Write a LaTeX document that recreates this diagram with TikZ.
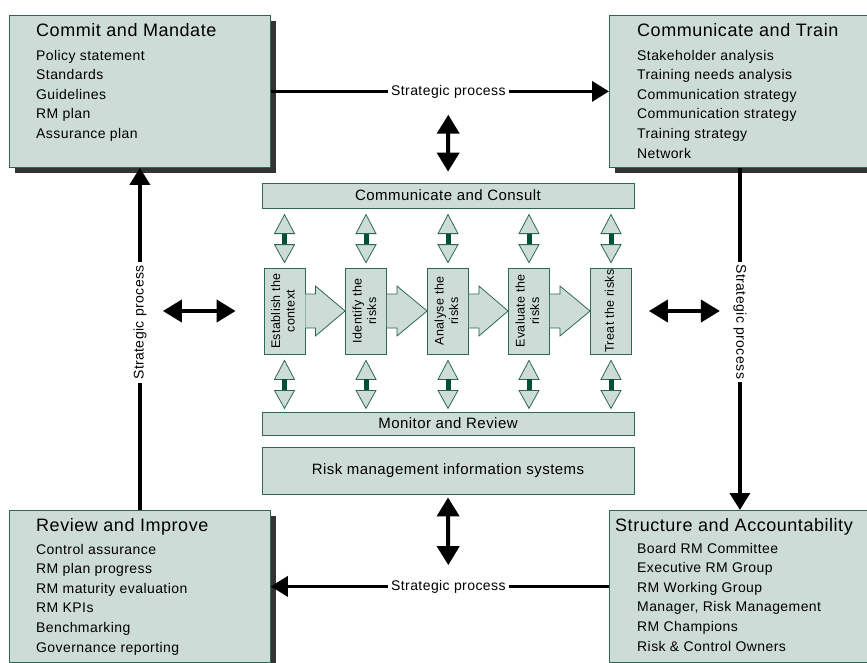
\documentclass[tikz,border=0pt]{standalone}
\usepackage{fontspec}
\setmainfont{Liberation Sans}[LetterSpace=3]
\usetikzlibrary{arrows.meta,calc,shadows}

\definecolor{boxfill}{RGB}{205,220,215}
\definecolor{boxline}{RGB}{45,105,80}
\definecolor{bargreen}{RGB}{0,80,55}

\tikzset{
  bigbox/.style={draw=boxline, fill=boxfill, line width=0.8pt, anchor=north west,
    minimum width=261pt, minimum height=152pt, inner sep=0pt,
    drop shadow={shadow xshift=6pt, shadow yshift=-6pt, fill=black!80, opacity=1}},
  boxtitle/.style={anchor=base west, inner sep=0pt, font=\fontsize{18}{20}\selectfont},
  boxitem/.style={anchor=base west, inner sep=0pt, font=\fontsize{14}{16}\selectfont},
  bar/.style={draw=boxline, fill=boxfill, line width=0.8pt, inner sep=0pt,
    font=\fontsize{15}{17}\selectfont},
  stepbox/.style={draw=boxline, fill=boxfill, line width=0.8pt, inner sep=0pt,
    minimum width=41pt, minimum height=86pt, font=\fontsize{12.5}{14.5}\selectfont},
  hollow/.style={draw=boxline, fill=boxfill, line width=0.8pt, line join=miter},
  strat/.style={line width=3.5pt, -{Triangle[length=17pt,width=20pt]}},
  dbl/.style={line width=4pt, {Triangle[length=19pt,width=22pt]}-{Triangle[length=19pt,width=22pt]}},
  stlabel/.style={fill=white, inner sep=3pt, font=\fontsize{14}{16}\selectfont},
  updown/.pic={
    \draw[hollow] (0,0) -- (10,19) -- (-10,19) -- cycle;
    \fill[bargreen] (-2.5,19) rectangle (2.5,30);
    \draw[hollow] (-10,30) -- (10,30) -- (0,48) -- cycle;
  }
}

\begin{document}
\begin{tikzpicture}[x=1pt,y=-1pt]
\clip (0,0) rectangle (867,662);
\fill[white] (0,0) rectangle (867,662);

% four outer boxes
\node[bigbox] (commit) at (9,15) {};
\node[bigbox] (train) at (609,15) {};
\node[bigbox] (review) at (9,510) {};
\node[bigbox] (struct) at (609,510) {};

\node[boxtitle] (committitle) at ([xshift=27pt,yshift=-21pt]commit.north west) {Commit and Mandate};
\foreach \t [count=\k, evaluate=\k as \yy using 45+19.6*(\k-1)] in
  {Policy statement, Standards, Guidelines, RM plan, Assurance plan}
  \node[boxitem] (commit\k) at ([xshift=27pt,yshift=-\yy pt]commit.north west) {\t};

\node[boxtitle] (traintitle) at ([xshift=28pt,yshift=-21pt]train.north west) {Communicate and Train};
\foreach \t [count=\k, evaluate=\k as \yy using 45+19.6*(\k-1)] in
  {Stakeholder analysis, Training needs analysis, Communication strategy,
   Communication strategy, Training strategy, Network}
  \node[boxitem] (train\k) at ([xshift=28pt,yshift=-\yy pt]train.north west) {\t};

\node[boxtitle] (reviewtitle) at ([xshift=27pt,yshift=-21pt]review.north west) {Review and Improve};
\foreach \t [count=\k, evaluate=\k as \yy using 44+19.6*(\k-1)] in
  {Control assurance, RM plan progress, RM maturity evaluation, RM KPIs,
   Benchmarking, Governance reporting}
  \node[boxitem] (review\k) at ([xshift=27pt,yshift=-\yy pt]review.north west) {\t};

\node[boxtitle] (structtitle) at ([xshift=6pt,yshift=-21pt]struct.north west) {Structure and Accountability};
\foreach \t [count=\k, evaluate=\k as \yy using 43+19.6*(\k-1)] in
  {Board RM Committee, Executive RM Group, RM Working Group,
   {Manager, Risk Management}, RM Champions, Risk \& Control Owners}
  \node[boxitem] (struct\k) at ([xshift=28pt,yshift=-\yy pt]struct.north west) {\t};

% strategic process loop
\draw[strat] (commit.east) -- node[stlabel, pos=0.525] (sptop) {Strategic process} (train.west);
\draw[strat] (train.south) -- node[stlabel, pos=0.45, rotate=-90] (spright) {Strategic process} (struct.north);
\draw[strat] (struct.west) -- node[stlabel, pos=0.475] (spbottom) {Strategic process} (review.east);
\draw[strat] (review.north) -- node[stlabel, pos=0.548, rotate=90] (spleft) {Strategic process} (commit.south);

% central process
\node[bar, minimum width=372pt, minimum height=25pt] (consult) at (448,195.5) {Communicate and Consult};
\node[bar, minimum width=372pt, minimum height=23pt] (monitor) at (448,423.5) {Monitor and Review};
\node[bar, minimum width=372pt, minimum height=47pt] (rmis) at (448,470.5) {Risk management information systems};

\foreach \x/\t [count=\i] in {284.5/{Establish the\\context}, 366/{Identify the\\risks},
    448/{Analyse the\\risks}, 529/{Evaluate the\\risks}, 611/{Treat the risks}}
  \node[stepbox] (b\i) at (\x,311) {\rotatebox{90}{\begin{tabular}{@{}c@{}}\t\end{tabular}}};

\foreach \i [evaluate=\i as \j using int(\i+1)] in {1,...,4}
  \draw[hollow] ([yshift=17pt]b\i.east) -- ([xshift=10pt,yshift=17pt]b\i.east)
    -- ([xshift=10pt,yshift=25pt]b\i.east) -- (b\j.west)
    -- ([xshift=10pt,yshift=-25pt]b\i.east) -- ([xshift=10pt,yshift=-17pt]b\i.east)
    -- ([yshift=-17pt]b\i.east);

\foreach \i in {1,...,5}{
  \pic at ($(b\i.north)+(0,-53)$) {updown};
  \pic at ($(b\i.south)+(0,6)$) {updown};
}

% links to the loop
\draw[dbl, shorten <=12pt, shorten >=11pt] (sptop.south) -- (consult.north);
\draw[dbl, shorten <=3pt, shorten >=10pt] (rmis.south) -- (spbottom.north);
\draw[dbl, shorten <=23pt, shorten >=28pt] (b1.west -| spleft.center) -- (b1.west);
\draw[dbl, shorten <=17pt, shorten >=20pt] (b5.east) -- (b5.east -| spright.center);
\end{tikzpicture}
\end{document}
